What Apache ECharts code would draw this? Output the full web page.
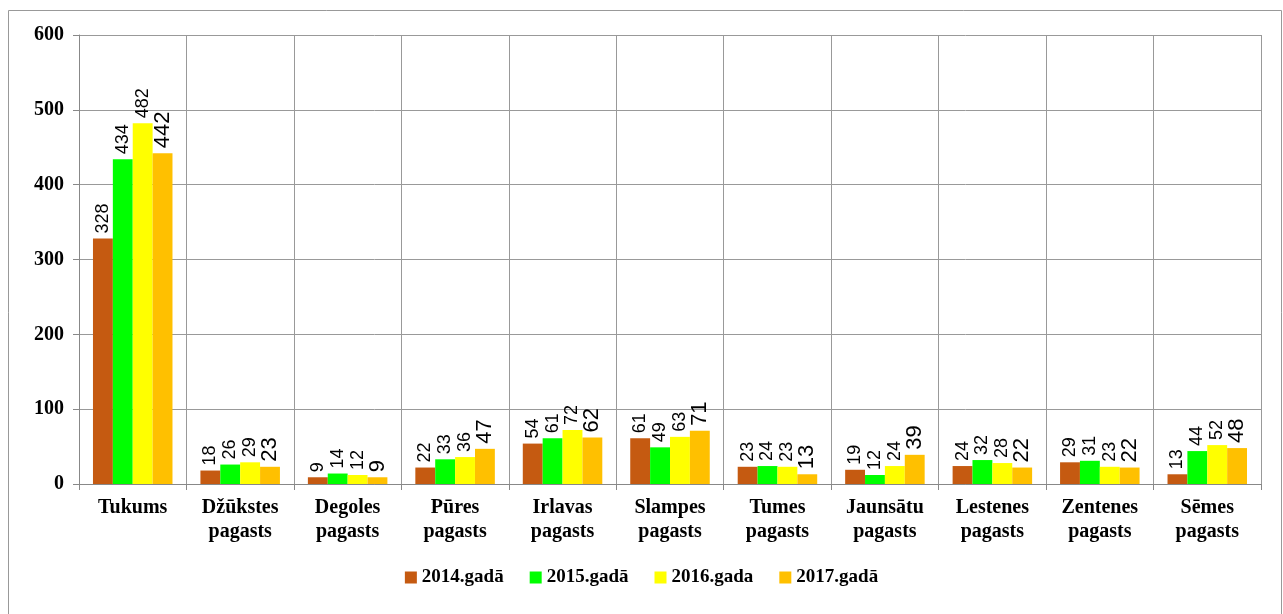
<!DOCTYPE html>
<html><head><meta charset="utf-8">
<script src="https://cdn.jsdelivr.net/npm/echarts@6/dist/echarts.min.js"></script>
<style>html,body{margin:0;padding:0;background:#fff}#c{width:1283px;height:614px}</style>
</head><body><div id="c"></div>
<script>
const categories = ["Tukums","Džūkstes\npagasts","Degoles\npagasts","Pūres\npagasts","Irlavas\npagasts","Slampes\npagasts","Tumes\npagasts","Jaunsātu\npagasts","Lestenes\npagasts","Zentenes\npagasts","Sēmes\npagasts"];
const seriesNames = ["2014.gadā","2015.gadā","2016.gada","2017.gadā"];
const v2014 = [328,18,9,22,54,61,23,19,24,29,13];
const v2015 = [434,26,14,33,61,49,24,12,32,31,44];
const v2016 = [482,29,12,36,72,63,23,24,28,23,52];
const v2017 = [442,23,9,47,62,71,13,39,22,22,48];
const colors = ["#C55A11","#00FF00","#FFFF00","#FFC000"];
const values = [v2014,v2015,v2016,v2017];
const chart = echarts.init(document.getElementById('c'));
const serif = 'Liberation Serif';
const sans = 'Liberation Sans';
chart.setOption({
  animation:false,
  graphic:[{type:'rect',shape:{x:8.5,y:10.5,width:1273,height:610},style:{fill:'none',stroke:'#999',lineWidth:1}}],
  legend:{bottom:22,left:'center',itemWidth:12,itemHeight:12,itemGap:26,icon:'rect',
    textStyle:{fontFamily:serif,fontWeight:'bold',fontSize:19,color:'#000'},data:seriesNames},
  grid:{left:79,right:22,top:35,bottom:130,containLabel:false},
  xAxis:{type:'category',data:categories,
    axisLine:{lineStyle:{color:'#888'}},axisTick:{show:true,length:6,lineStyle:{color:'#888'}},
    splitLine:{show:true,lineStyle:{color:'#999'}},
    axisLabel:{interval:0,fontFamily:serif,fontWeight:'bold',fontSize:20,color:'#000',lineHeight:24,margin:12}},
  yAxis:{type:'value',min:0,max:600,interval:100,
    axisLine:{show:true,lineStyle:{color:'#888'}},axisTick:{show:true,length:6,lineStyle:{color:'#888'}},
    splitLine:{show:true,lineStyle:{color:'#999'}},
    axisLabel:{fontFamily:serif,fontWeight:'bold',fontSize:20,color:'#000',margin:15}},
  series: values.map((d,i)=>({
    name:seriesNames[i],type:'bar',data:d,barGap:'0%',barCategoryGap:'26%',
    itemStyle:{color:colors[i]},
    label:{show:true,position:'top',rotate:90,align:'left',verticalAlign:'middle',distance:5,
      fontFamily:sans,fontSize:i===3?22:18,color:'#000'}
  }))
});
</script></body></html>
